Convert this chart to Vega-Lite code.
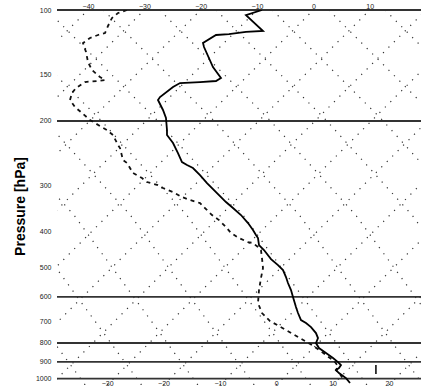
{
  "$schema": "https://vega.github.io/schema/vega-lite/v6.json",
  "width": 364,
  "height": 375,
  "autosize": {"type": "none"},
  "padding": {"left": 57, "top": 10, "right": 11, "bottom": 3},
  "background": "white",
  "config": {
    "view": {"stroke": null},
    "font": "Liberation Sans",
    "axis": {"grid": false, "ticks": false, "domain": false, "labelFont": "Liberation Sans", "labelColor": "#222", "labelFlush": false, "labelOverlap": false}
  },
  "datasets": {
    "lat": [
      {"id": "d-8", "T": -97.29, "p": 100}, {"id": "d-8", "T": -77.76, "p": 198.8}, {"id": "d-8", "T": -62.5, "p": 359.8}, {"id": "d-8", "T": -49.55, "p": 672.1}, {"id": "d-8", "T": -40.5, "p": 1040},
      {"id": "d-7", "T": -87.29, "p": 100}, {"id": "d-7", "T": -67.76, "p": 198.8}, {"id": "d-7", "T": -52.5, "p": 359.8}, {"id": "d-7", "T": -39.55, "p": 672.1}, {"id": "d-7", "T": -30.5, "p": 1040},
      {"id": "d-6", "T": -77.29, "p": 100}, {"id": "d-6", "T": -57.76, "p": 198.8}, {"id": "d-6", "T": -42.5, "p": 359.8}, {"id": "d-6", "T": -29.55, "p": 672.1}, {"id": "d-6", "T": -20.5, "p": 1040},
      {"id": "d-5", "T": -67.29, "p": 100}, {"id": "d-5", "T": -47.76, "p": 198.8}, {"id": "d-5", "T": -32.5, "p": 359.8}, {"id": "d-5", "T": -19.55, "p": 672.1}, {"id": "d-5", "T": -10.5, "p": 1040},
      {"id": "d-4", "T": -57.29, "p": 100}, {"id": "d-4", "T": -37.76, "p": 198.8}, {"id": "d-4", "T": -22.5, "p": 359.8}, {"id": "d-4", "T": -9.55, "p": 672.1}, {"id": "d-4", "T": -0.5, "p": 1040},
      {"id": "d-3", "T": -47.29, "p": 100}, {"id": "d-3", "T": -27.76, "p": 198.8}, {"id": "d-3", "T": -12.5, "p": 359.8}, {"id": "d-3", "T": 0.45, "p": 672.1}, {"id": "d-3", "T": 9.5, "p": 1040},
      {"id": "d-2", "T": -37.29, "p": 100}, {"id": "d-2", "T": -17.76, "p": 198.8}, {"id": "d-2", "T": -2.5, "p": 359.8}, {"id": "d-2", "T": 10.45, "p": 672.1}, {"id": "d-2", "T": 19.5, "p": 1040},
      {"id": "d-1", "T": -27.29, "p": 100}, {"id": "d-1", "T": -7.76, "p": 198.8}, {"id": "d-1", "T": 7.5, "p": 359.8}, {"id": "d-1", "T": 20.45, "p": 672.1}, {"id": "d-1", "T": 29.5, "p": 1040},
      {"id": "d0", "T": -17.29, "p": 100}, {"id": "d0", "T": 2.24, "p": 198.8}, {"id": "d0", "T": 17.5, "p": 359.8}, {"id": "d0", "T": 30.45, "p": 672.1}, {"id": "d0", "T": 39.5, "p": 1040},
      {"id": "d1", "T": -7.29, "p": 100}, {"id": "d1", "T": 12.24, "p": 198.8}, {"id": "d1", "T": 27.5, "p": 359.8}, {"id": "d1", "T": 40.45, "p": 672.1}, {"id": "d1", "T": 49.5, "p": 1040},
      {"id": "d2", "T": 2.71, "p": 100}, {"id": "d2", "T": 22.24, "p": 198.8}, {"id": "d2", "T": 37.5, "p": 359.8}, {"id": "d2", "T": 50.45, "p": 672.1}, {"id": "d2", "T": 59.5, "p": 1040},
      {"id": "d3", "T": 12.71, "p": 100}, {"id": "d3", "T": 32.24, "p": 198.8}, {"id": "d3", "T": 47.5, "p": 359.8}, {"id": "d3", "T": 60.45, "p": 672.1}, {"id": "d3", "T": 69.5, "p": 1040},
      {"id": "u-6", "T": -106.6, "p": 1040}, {"id": "u-6", "T": -40, "p": 100},
      {"id": "u-5", "T": -96.6, "p": 1040}, {"id": "u-5", "T": -30, "p": 100},
      {"id": "u-4", "T": -86.6, "p": 1040}, {"id": "u-4", "T": -20, "p": 100},
      {"id": "u-3", "T": -76.6, "p": 1040}, {"id": "u-3", "T": -10, "p": 100},
      {"id": "u-2", "T": -66.6, "p": 1040}, {"id": "u-2", "T": 0, "p": 100},
      {"id": "u-1", "T": -56.6, "p": 1040}, {"id": "u-1", "T": 10, "p": 100},
      {"id": "u0", "T": -46.6, "p": 1040}, {"id": "u0", "T": 20, "p": 100},
      {"id": "u1", "T": -36.6, "p": 1040}, {"id": "u1", "T": 30, "p": 100},
      {"id": "u2", "T": -26.6, "p": 1040}, {"id": "u2", "T": 40, "p": 100},
      {"id": "u3", "T": -16.6, "p": 1040}, {"id": "u3", "T": 50, "p": 100},
      {"id": "u4", "T": -6.6, "p": 1040}, {"id": "u4", "T": 60, "p": 100},
      {"id": "u5", "T": 3.4, "p": 1040}, {"id": "u5", "T": 70, "p": 100},
      {"id": "u6", "T": 13.4, "p": 1040}, {"id": "u6", "T": 80, "p": 100}
    ],
    "hl": [{"p": 100}, {"p": 200}, {"p": 600}, {"p": 800}, {"p": 900}, {"p": 1000}],
    "temp": [
      {"i": 1, "T": -9.12, "p": 100}, {"i": 2, "T": -11.96, "p": 103.2}, {"i": 3, "T": -8.94, "p": 114.0}, {"i": 4, "T": -11.96, "p": 114.7},
      {"i": 5, "T": -14.98, "p": 116.2}, {"i": 6, "T": -17.28, "p": 116.9}, {"i": 7, "T": -19.59, "p": 122.9}, {"i": 8, "T": -19.41, "p": 126.0},
      {"i": 9, "T": -17.82, "p": 142.8}, {"i": 10, "T": -16.40, "p": 152.9}, {"i": 11, "T": -17.28, "p": 155.8}, {"i": 12, "T": -20.12, "p": 156.8},
      {"i": 13, "T": -23.67, "p": 157.8}, {"i": 14, "T": -24.91, "p": 161.8}, {"i": 15, "T": -27.22, "p": 172.2}, {"i": 16, "T": -27.58, "p": 175.4},
      {"i": 17, "T": -26.69, "p": 186.7}, {"i": 18, "T": -26.16, "p": 196.3}, {"i": 19, "T": -25.98, "p": 211.6}, {"i": 20, "T": -25.98, "p": 218.3},
      {"i": 21, "T": -24.91, "p": 229.5}, {"i": 22, "T": -24.03, "p": 244.3}, {"i": 23, "T": -23.32, "p": 258.4}, {"i": 24, "T": -22.43, "p": 263.3},
      {"i": 25, "T": -21.37, "p": 268.3}, {"i": 26, "T": -20.12, "p": 280.3}, {"i": 27, "T": -18.88, "p": 294.6}, {"i": 28, "T": -17.28, "p": 311.7},
      {"i": 29, "T": -15.51, "p": 331.8}, {"i": 30, "T": -14.27, "p": 344.4}, {"i": 31, "T": -12.85, "p": 359.8}, {"i": 32, "T": -11.60, "p": 378.3},
      {"i": 33, "T": -10.72, "p": 395.2}, {"i": 34, "T": -10.19, "p": 407.7}, {"i": 35, "T": -9.83, "p": 415.4}, {"i": 36, "T": -9.65, "p": 434.0},
      {"i": 37, "T": -8.77, "p": 447.8}, {"i": 38, "T": -7.52, "p": 473.7}, {"i": 39, "T": -6.28, "p": 491.7}, {"i": 40, "T": -5.39, "p": 507.3},
      {"i": 41, "T": -4.86, "p": 530.0}, {"i": 42, "T": -4.51, "p": 550.2}, {"i": 43, "T": -3.97, "p": 574.8}, {"i": 44, "T": -3.62, "p": 600.5},
      {"i": 45, "T": -3.09, "p": 639.3}, {"i": 46, "T": -2.73, "p": 663.6}, {"i": 47, "T": -2.20, "p": 693.3}, {"i": 48, "T": -1.31, "p": 706.4},
      {"i": 49, "T": -0.42, "p": 724.3}, {"i": 50, "T": 0.46, "p": 751.9}, {"i": 51, "T": 0.82, "p": 775.8}, {"i": 52, "T": 0.46, "p": 800.4},
      {"i": 53, "T": 0.99, "p": 825.8}, {"i": 54, "T": 2.24, "p": 852.0}, {"i": 55, "T": 3.48, "p": 879.0}, {"i": 56, "T": 4.37, "p": 901.2},
      {"i": 57, "T": 4.90, "p": 918.3}, {"i": 58, "T": 4.54, "p": 935.7}, {"i": 59, "T": 4.01, "p": 947.4}, {"i": 60, "T": 4.54, "p": 965.3},
      {"i": 61, "T": 5.79, "p": 996.0}, {"i": 62, "T": 6.5, "p": 1027}
    ],
    "dew": [
      {"i": 1, "T": -33.08, "p": 100}, {"i": 2, "T": -34.67, "p": 101.9}, {"i": 3, "T": -35.74, "p": 105.1}, {"i": 4, "T": -36.45, "p": 110.5},
      {"i": 5, "T": -36.98, "p": 115.5}, {"i": 6, "T": -38.22, "p": 116.9}, {"i": 7, "T": -39.64, "p": 119.1}, {"i": 8, "T": -40.89, "p": 122.9},
      {"i": 9, "T": -40.35, "p": 130.0}, {"i": 10, "T": -40.00, "p": 138.4}, {"i": 11, "T": -39.29, "p": 145.5}, {"i": 12, "T": -37.87, "p": 152.0},
      {"i": 13, "T": -36.98, "p": 154.8}, {"i": 14, "T": -38.40, "p": 155.8}, {"i": 15, "T": -40.53, "p": 156.8}, {"i": 16, "T": -42.13, "p": 162.8},
      {"i": 17, "T": -42.84, "p": 167.9}, {"i": 18, "T": -43.19, "p": 175.4}, {"i": 19, "T": -42.31, "p": 183.3}, {"i": 20, "T": -41.06, "p": 190.3},
      {"i": 21, "T": -39.64, "p": 198.8}, {"i": 22, "T": -37.87, "p": 206.4}, {"i": 23, "T": -36.63, "p": 211.6}, {"i": 24, "T": -35.56, "p": 218.3},
      {"i": 25, "T": -34.67, "p": 232.4}, {"i": 26, "T": -34.32, "p": 236.8}, {"i": 27, "T": -33.79, "p": 255.2}, {"i": 28, "T": -33.08, "p": 260.0},
      {"i": 29, "T": -32.01, "p": 276.8}, {"i": 30, "T": -30.42, "p": 285.6}, {"i": 31, "T": -29.53, "p": 292.8}, {"i": 32, "T": -27.58, "p": 298.4},
      {"i": 33, "T": -26.69, "p": 304.0}, {"i": 34, "T": -24.91, "p": 311.7}, {"i": 35, "T": -23.32, "p": 321.6}, {"i": 36, "T": -21.90, "p": 327.7},
      {"i": 37, "T": -20.12, "p": 333.8}, {"i": 38, "T": -19.24, "p": 344.4}, {"i": 39, "T": -17.99, "p": 359.8}, {"i": 40, "T": -16.75, "p": 371.3},
      {"i": 41, "T": -15.51, "p": 387.8}, {"i": 42, "T": -14.62, "p": 402.6}, {"i": 43, "T": -13.20, "p": 415.4}, {"i": 44, "T": -11.60, "p": 425.9},
      {"i": 45, "T": -10.72, "p": 428.6}, {"i": 46, "T": -9.83, "p": 439.4}, {"i": 47, "T": -9.30, "p": 447.8}, {"i": 48, "T": -9.12, "p": 470.7},
      {"i": 49, "T": -8.94, "p": 501.0}, {"i": 50, "T": -9.30, "p": 533.4}, {"i": 51, "T": -9.65, "p": 574.8}, {"i": 52, "T": -9.83, "p": 623.5},
      {"i": 53, "T": -9.12, "p": 663.6}, {"i": 54, "T": -7.70, "p": 697.6}, {"i": 55, "T": -6.10, "p": 719.8}, {"i": 56, "T": -2.38, "p": 775.8},
      {"i": 57, "T": -0.25, "p": 810.5}, {"i": 58, "T": 1.53, "p": 846.7}, {"i": 59, "T": 2.95, "p": 879.0}, {"i": 60, "T": 3.83, "p": 901.2},
      {"i": 61, "T": 4.37, "p": 924.1}, {"i": 62, "T": 4.01, "p": 947.4}, {"i": 63, "T": 4.72, "p": 971.4}, {"i": 64, "T": 5.43, "p": 1008.6}
    ],
    "bar": [{"T": 11.1, "p": 918, "p2": 971}]
  },
  "layer": [
    {
      "data": {"name": "lat"},
      "mark": {"type": "line", "clip": true, "color": "#333", "strokeWidth": 1.2, "strokeDash": [1.2, 6.5]},
      "encoding": {
        "x": {"field": "T", "type": "quantitative", "scale": {"domain": [-45.5, 19.1], "nice": false, "zero": false},
              "axis": {"orient": "top", "title": null, "values": [-40, -30, -20, -10, 0, 10], "labelFontSize": 7, "labelPadding": 1}},
        "y": {"field": "p", "type": "quantitative", "scale": {"type": "log", "domain": [100, 1040], "reverse": true, "nice": false},
              "axis": {"title": "Pressure [hPa]", "values": [100, 150, 200, 300, 400, 500, 600, 700, 800, 900, 1000], "format": "d",
                       "labelFontSize": 7, "labelPadding": 6,
                       "titleFontSize": 14, "titleFontWeight": "bold", "titleFont": "Liberation Sans", "titleColor": "#000",
                       "titleAngle": -90, "titleAlign": "center", "titleBaseline": "alphabetic", "titleX": -33, "titleY": 196}},
        "detail": {"field": "id"}
      }
    },
    {
      "data": {"name": "hl"},
      "mark": {"type": "rule", "color": "#333", "strokeWidth": 1.8},
      "encoding": {
        "y": {"field": "p", "type": "quantitative"}
      }
    },
    {
      "data": {"name": "dew"},
      "mark": {"type": "line", "clip": true, "color": "#111", "strokeWidth": 1.8, "strokeDash": [4, 4]},
      "encoding": {
        "x": {"field": "T", "type": "quantitative", "axis": null},
        "y": {"field": "p", "type": "quantitative"},
        "order": {"field": "i", "type": "quantitative"}
      }
    },
    {
      "data": {"name": "temp"},
      "mark": {"type": "line", "clip": true, "color": "#000", "strokeWidth": 1.8},
      "encoding": {
        "x": {"field": "T", "type": "quantitative",
              "axis": {"orient": "bottom", "title": null, "values": [-36.6, -26.6, -16.6, -6.6, 3.4, 13.4], "labelExpr": "format(round(datum.value + 6.6), 'd')", "labelFontSize": 7, "labelPadding": -6}},
        "y": {"field": "p", "type": "quantitative"},
        "order": {"field": "i", "type": "quantitative"}
      }
    },
    {
      "data": {"name": "bar"},
      "mark": {"type": "rule", "color": "#000", "strokeWidth": 1.5},
      "encoding": {
        "x": {"field": "T", "type": "quantitative", "axis": null},
        "y": {"field": "p", "type": "quantitative"},
        "y2": {"field": "p2"}
      }
    }
  ],
  "resolve": {"axis": {"x": "independent"}}
}
